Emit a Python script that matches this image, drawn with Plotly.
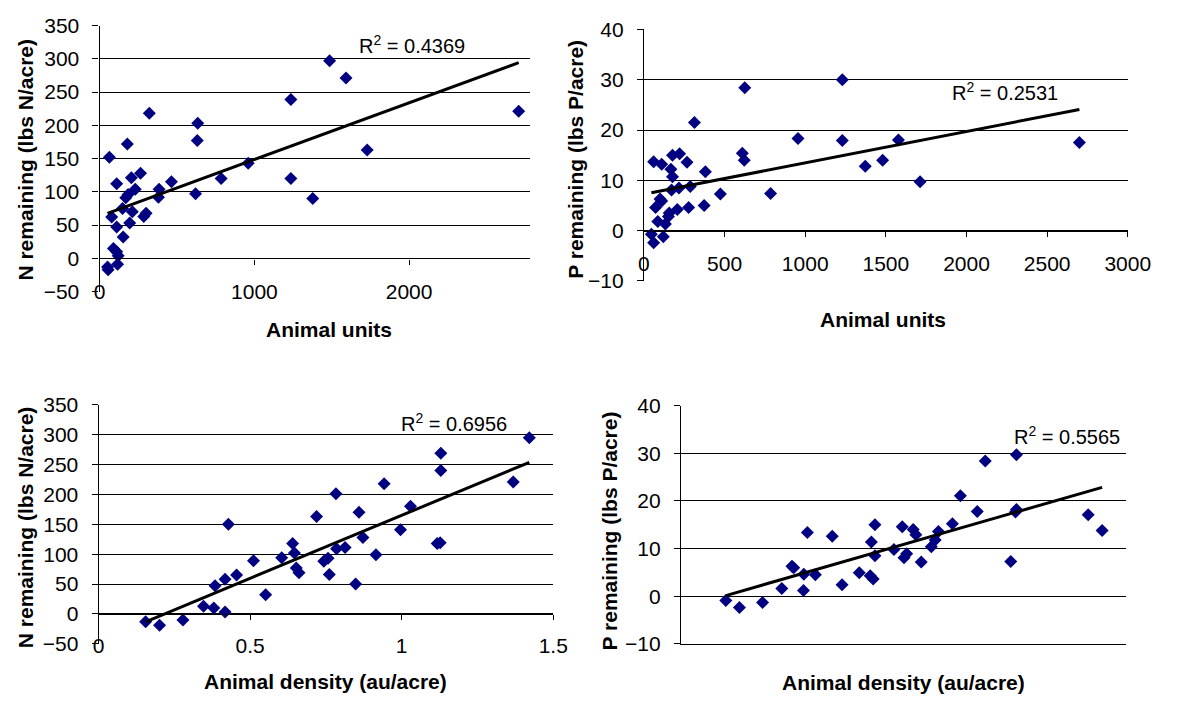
import numpy as np
import plotly.graph_objects as go

# ---------------- data ----------------
units_n_x = [63, 179, 321, 634, 631, 110, 205, 264, 230, 184, 169, 384, 380, 464, 620,
             785, 960, 1236, 1236, 1377, 1486, 1592, 1729, 2708, 148, 211, 285, 300, 78,
             110, 194, 152, 89, 110, 120, 51, 55, 116]
units_n_y = [152, 172, 218, 203, 177, 112, 121, 128, 104, 96, 91, 104, 92, 115, 97,
             120, 143, 239, 120, 90, 297, 271, 163, 221, 75, 70, 63, 68, 62,
             47, 53, 32, 15, 10, 4, -13, -17, -9]

units_p_x = [60, 110, 177, 221, 267, 167, 177, 171, 217, 287, 313, 381, 373, 277, 474,
             625, 610, 622, 785, 955, 1230, 1230, 1372, 1480, 1578, 1712, 2700, 72, 100,
             110, 86, 133, 152, 157, 207, 46, 60, 120]
units_p_y = [13.7, 13.2, 15.0, 15.3, 13.6, 12.2, 10.7, 8.1, 8.5, 8.8, 21.5, 11.7, 5.0, 4.6, 7.3,
             28.4, 15.4, 14.0, 7.4, 18.3, 30.0, 17.9, 12.8, 14.0, 18.0, 9.7, 17.5, 4.6, 6.3,
             5.9, 1.8, 1.3, 2.8, 3.5, 4.2, -0.7, -2.4, -1.2]

dens_n_x = [0.155, 0.201, 0.278, 0.346, 0.380, 0.417, 0.384, 0.417, 0.455, 0.428, 0.511,
            0.551, 0.604, 0.640, 0.646, 0.652, 0.661, 0.719, 0.743, 0.757, 0.761, 0.783,
            0.785, 0.813, 0.848, 0.859, 0.872, 0.915, 0.942, 0.996, 1.029, 1.117, 1.127,
            1.129, 1.129, 1.368, 1.421]
dens_n_y = [-13, -19, -10, 13, 10, 3, 47, 58, 65, 150, 89, 32, 94, 118, 102, 77, 69, 163,
            88, 93, 66, 201, 109, 111, 50, 170, 128, 99, 218, 141, 180, 118, 119, 269, 240,
            221, 295]

dens_p_x = [0.151, 0.197, 0.275, 0.340, 0.374, 0.380, 0.414, 0.413, 0.426, 0.453, 0.510,
            0.543, 0.601, 0.638, 0.648, 0.642, 0.654, 0.654, 0.718, 0.746, 0.752, 0.761,
            0.783, 0.792, 0.810, 0.844, 0.857, 0.868, 0.915, 0.942, 0.999, 1.026, 1.112,
            1.131, 1.131, 1.128, 1.373, 1.420]
dens_p_y = [-0.9, -2.4, -1.3, 1.6, 6.3, 6.0, 4.6, 1.2, 13.4, 4.5, 12.6, 2.4, 4.9, 4.3, 3.6,
            11.4, 15.0, 8.5, 9.8, 14.6, 8.1, 8.9, 14.0, 12.9, 7.2, 10.4, 11.8, 13.6, 15.2,
            21.1, 17.8, 28.4, 7.3, 29.7, 18.2, 17.7, 17.1, 13.8]

r2_text = ["0.4369", "0.2531", "0.6956", "0.5565"]

n_ticks = [-50, 0, 50, 100, 150, 200, 250, 300, 350]
p_ticks = [-10, 0, 10, 20, 30, 40]
units_ticks_1 = [0, 1000, 2000]
units_ticks_2 = [0, 500, 1000, 1500, 2000, 2500, 3000]
dens_ticks = [0, 0.5, 1, 1.5]

# ---------------- layout geometry (pixels of the 1182x708 page) ----------------
W, H = 1182, 708
def xd(a, b):
    return [a / W, b / W]
def yd(top, bottom):
    return [1 - bottom / H, 1 - top / H]

panels = [
    dict(x=units_n_x, y=units_n_y, xdom=xd(96, 537), ydom=yd(14, 289),
         xr=[0, 2780], yr=[-50, 350], xt=units_ticks_1, yt=n_ticks,
         xtitle="Animal units", ytitle="N remaining (lbs N/acre)",
         xtitle_pos=(331, 328), ytitle_pos=(19, 153), lab_standoff=9,
         r2=r2_text[0], r2pos=(2020, 321)),
    dict(x=units_p_x, y=units_p_y, xdom=xd(654, 1150), ydom=yd(18, 278),
         xr=[0, 3000], yr=[-10, 40], xt=units_ticks_2, yt=p_ticks,
         xtitle="Animal units", ytitle="P remaining (lbs P/acre)",
         xtitle_pos=(899, 318), ytitle_pos=(583, 152), lab_standoff=9,
         r2=r2_text[1], r2pos=(2241, 27.6)),
    dict(x=dens_n_x, y=dens_n_y, xdom=xd(95, 561), ydom=yd(406, 653),
         xr=[0, 1.5], yr=[-50, 350], xt=dens_ticks, yt=n_ticks,
         xtitle="Animal density (au/acre)", ytitle="N remaining (lbs N/acre)",
         xtitle_pos=(328, 692), ytitle_pos=(20, 533), lab_standoff=8,
         r2=r2_text[2], r2pos=(1.172, 320)),
    dict(x=dens_p_x, y=dens_p_y, xdom=xd(692, 1148), ydom=yd(407, 653),
         xr=[0, 1.5], yr=[-10, 40], xt=dens_ticks, yt=p_ticks,
         xtitle="Animal density (au/acre)", ytitle="P remaining (lbs P/acre)",
         xtitle_pos=(920, 693), ytitle_pos=(619, 536), lab_standoff=0,
         r2=r2_text[3], r2pos=(1.30, 33.8)),
]

FONT = "Liberation Sans, Arial, sans-serif"
fig = go.Figure()
layout = dict(width=W, height=H, margin=dict(l=0, r=0, t=0, b=0),
              paper_bgcolor="white", plot_bgcolor="white", showlegend=False,
              font=dict(family=FONT, color="black", size=21))
annotations = []

for i, p in enumerate(panels, start=1):
    xa = "x" if i == 1 else f"x{i}"
    ya = "y" if i == 1 else f"y{i}"
    xk = "xaxis" if i == 1 else f"xaxis{i}"
    yk = "yaxis" if i == 1 else f"yaxis{i}"

    fig.add_trace(go.Scatter(x=p["x"], y=p["y"], mode="markers", xaxis=xa, yaxis=ya,
                             marker=dict(symbol="diamond", size=10, color="#000080",
                                         line=dict(width=0)), hoverinfo="x+y"))
    xs = np.array(p["x"], dtype=float)
    ys = np.array(p["y"], dtype=float)
    m, b = np.polyfit(xs, ys, 1)
    lx = np.array([xs.min(), xs.max()])
    fig.add_trace(go.Scatter(x=lx, y=m * lx + b, mode="lines", xaxis=xa, yaxis=ya,
                             line=dict(color="black", width=3), hoverinfo="skip"))

    ylo, yhi = p["yr"]
    frac0 = (0 - ylo) / (yhi - ylo)
    ydom = p["ydom"]
    pos0 = ydom[0] + frac0 * (ydom[1] - ydom[0])

    xaxis = dict(domain=p["xdom"], range=p["xr"], tickvals=p["xt"], showgrid=False,
                 zeroline=False, showline=True, linecolor="black", linewidth=1.3,
                 ticks="outside", ticklen=5, tickcolor="black", tickwidth=1.3,
                 tickfont=dict(size=21), fixedrange=True,
                 ticklabelstandoff=p["lab_standoff"])
    if i in (1, 2, 3):
        xaxis.update(anchor="free", position=pos0)
    else:
        xaxis.update(anchor=ya, showticklabels=False, ticks="")

    yaxis = dict(domain=ydom, range=p["yr"], tickvals=p["yt"], showgrid=True,
                 gridcolor="black", gridwidth=1.3, zeroline=False, showline=True,
                 linecolor="black", linewidth=1.3, ticks="outside", ticklen=6,
                 tickcolor="black", tickwidth=1.3, anchor=xa, fixedrange=True,
                 tickfont=dict(size=21), ticklabelstandoff=9)
    layout[xk] = xaxis
    layout[yk] = yaxis

    annotations.append(dict(x=p["r2pos"][0], y=p["r2pos"][1], xref=xa, yref=ya,
                            text=f"R<sup>2</sup> = {p['r2']}", showarrow=False,
                            font=dict(size=20, color="black"), xanchor="center",
                            yanchor="middle"))
    # axis titles
    annotations.append(dict(x=p["xtitle_pos"][0] / W, y=1 - p["xtitle_pos"][1] / H,
                            xref="paper", yref="paper", text=f"<b>{p['xtitle']}</b>",
                            showarrow=False, font=dict(size=21, color="black"),
                            xanchor="center", yanchor="middle"))
    annotations.append(dict(x=p["ytitle_pos"][0] / W, y=1 - p["ytitle_pos"][1] / H,
                            xref="paper", yref="paper", text=f"<b>{p['ytitle']}</b>",
                            showarrow=False, textangle=-90,
                            font=dict(size=21, color="black"),
                            xanchor="center", yanchor="middle"))

layout["annotations"] = annotations
fig.update_layout(**layout)
fig.write_html("out.html", config={"displayModeBar": False},
               post_script="document.body.style.margin='0';document.body.style.overflow='hidden';")
